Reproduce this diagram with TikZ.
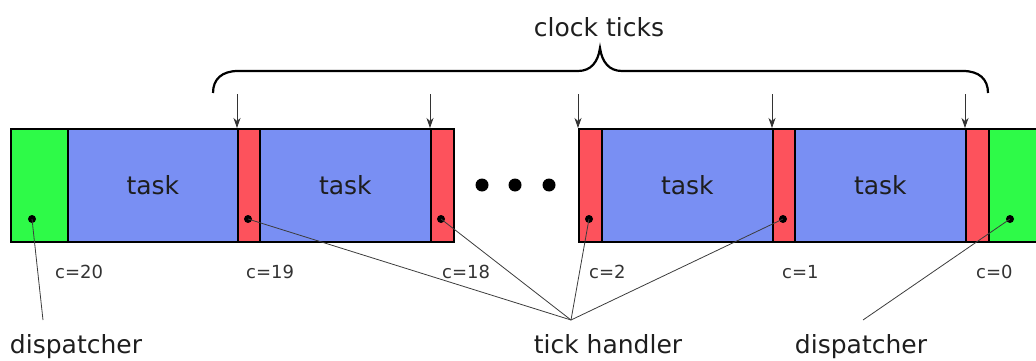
\documentclass[tikz,border=0pt]{standalone}
\usepackage{fontspec}
\setmainfont{DejaVu Sans}
\usetikzlibrary{arrows.meta}
\definecolor{dgreen}{RGB}{46,250,72}
\definecolor{tblue}{RGB}{121,143,243}
\definecolor{hred}{RGB}{253,82,92}
\definecolor{lgray}{RGB}{60,60,60}
\definecolor{txt}{RGB}{30,30,30}
\begin{document}
\begin{tikzpicture}[x=1pt,y=-1pt,
  seg/.style={draw=black, line width=1.8pt, inner sep=0pt, anchor=north west, minimum height=113pt},
  disp/.style={seg, fill=dgreen},
  taskbox/.style={seg, fill=tblue, text=txt, font=\fontsize{25}{30}\selectfont},
  tick/.style={seg, fill=hred},
  dot/.style={circle, fill=black, inner sep=0pt, minimum size=8pt},
  bigdot/.style={circle, fill=black, inner sep=0pt, minimum width=11pt, minimum height=13pt},
  clab/.style={anchor=west, inner sep=0pt, font=\fontsize{18}{20}\selectfont, text=black!80},
  blab/.style={anchor=base, inner sep=0pt, text=txt, font=\fontsize{25}{30}\selectfont},
  conn/.style={draw=lgray, line width=0.8pt},
  tarr/.style={draw=black!80, line width=0.8pt, -{Stealth[length=10pt,width=7pt,inset=3pt]}},
  bracepath/.style={draw=black, line width=2.2pt}]
\clip (0,0) rectangle (1036,361);
% bar segments
\node[disp, minimum width=57pt] (g1) at (10,128) {};
\node[taskbox, minimum width=170pt] (t1) at (67,128) {task};
\node[tick, minimum width=22pt] (r1) at (237,128) {};
\node[taskbox, minimum width=171pt] (t2) at (259,128) {task};
\node[tick, minimum width=23pt] (r2) at (430,128) {};
\node[tick, minimum width=23pt] (r3) at (578,128) {};
\node[taskbox, minimum width=171pt] (t3) at (601,128) {task};
\node[tick, minimum width=22pt] (r4) at (772,128) {};
\node[taskbox, minimum width=171pt] (t4) at (794,128) {task};
\node[tick, minimum width=23pt] (r5) at (965,128) {};
\node[disp, minimum width=60pt] (g2) at (988,128) {};
% ellipsis
\node[bigdot] (e1) at (482,185) {};
\node[bigdot] (e2) at (515,185) {};
\node[bigdot] (e3) at (549,185) {};
% marker dots
\node[dot] (p0) at (32,219) {};
\node[dot] (p1) at (248,219) {};
\node[dot] (p2) at (441,219) {};
\node[dot] (p3) at (589,219) {};
\node[dot] (p4) at (783,219) {};
\node[dot] (p5) at (1010,219) {};
% counter labels
\node[clab] (c20) at (55,272) {c=20};
\node[clab] (c19) at (246,272) {c=19};
\node[clab] (c18) at (442,272) {c=18};
\node[clab] (c2) at (589,272) {c=2};
\node[clab] (c1) at (782,272) {c=1};
\node[clab] (c0) at (976,272) {c=0};
% bottom labels
\coordinate (dl) at (43,320);
\coordinate (th) at (571,320);
\coordinate (dr) at (863,320);
\node[blab] (dispL) at (76,353) {dispatcher};
\node[blab] (tickh) at (608,353) {tick handler};
\node[blab] (dispR) at (861,353) {dispatcher};
\draw[conn] (p0.center) -- (dl);
\draw[conn] (p1.center) -- (th);
\draw[conn] (p2.center) -- (th);
\draw[conn] (p3.center) -- (th);
\draw[conn] (p4.center) -- (th);
\draw[conn] (p5.center) -- (dr);
% clock tick arrows
\coordinate (a1) at (237,94);
\coordinate (a2) at (430,94);
\coordinate (a3) at (578,94);
\coordinate (a4) at (772,94);
\coordinate (a5) at (965,94);
\draw[tarr] (a1) -- (r1.north west);
\draw[tarr] (a2) -- (r2.north west);
\draw[tarr] (a3) -- (r3.north west);
\draw[tarr] (a4) -- (r4.north west);
\draw[tarr] (a5) -- (r5.north west);
% brace
\coordinate (bl) at (213,93);
\coordinate (br) at (988,93);
\coordinate (btip) at (600,48);
\draw[bracepath] (bl) .. controls (213,79) and (222,71) .. (238,71)
  -- (578,71) .. controls (591,71) and (598,62) .. (btip)
  .. controls (602,62) and (609,71) .. (622,71)
  -- (963,71) .. controls (979,71) and (988,79) .. (br);
\node[blab] (ct) at (599,37) {clock ticks};
\end{tikzpicture}
\end{document}
